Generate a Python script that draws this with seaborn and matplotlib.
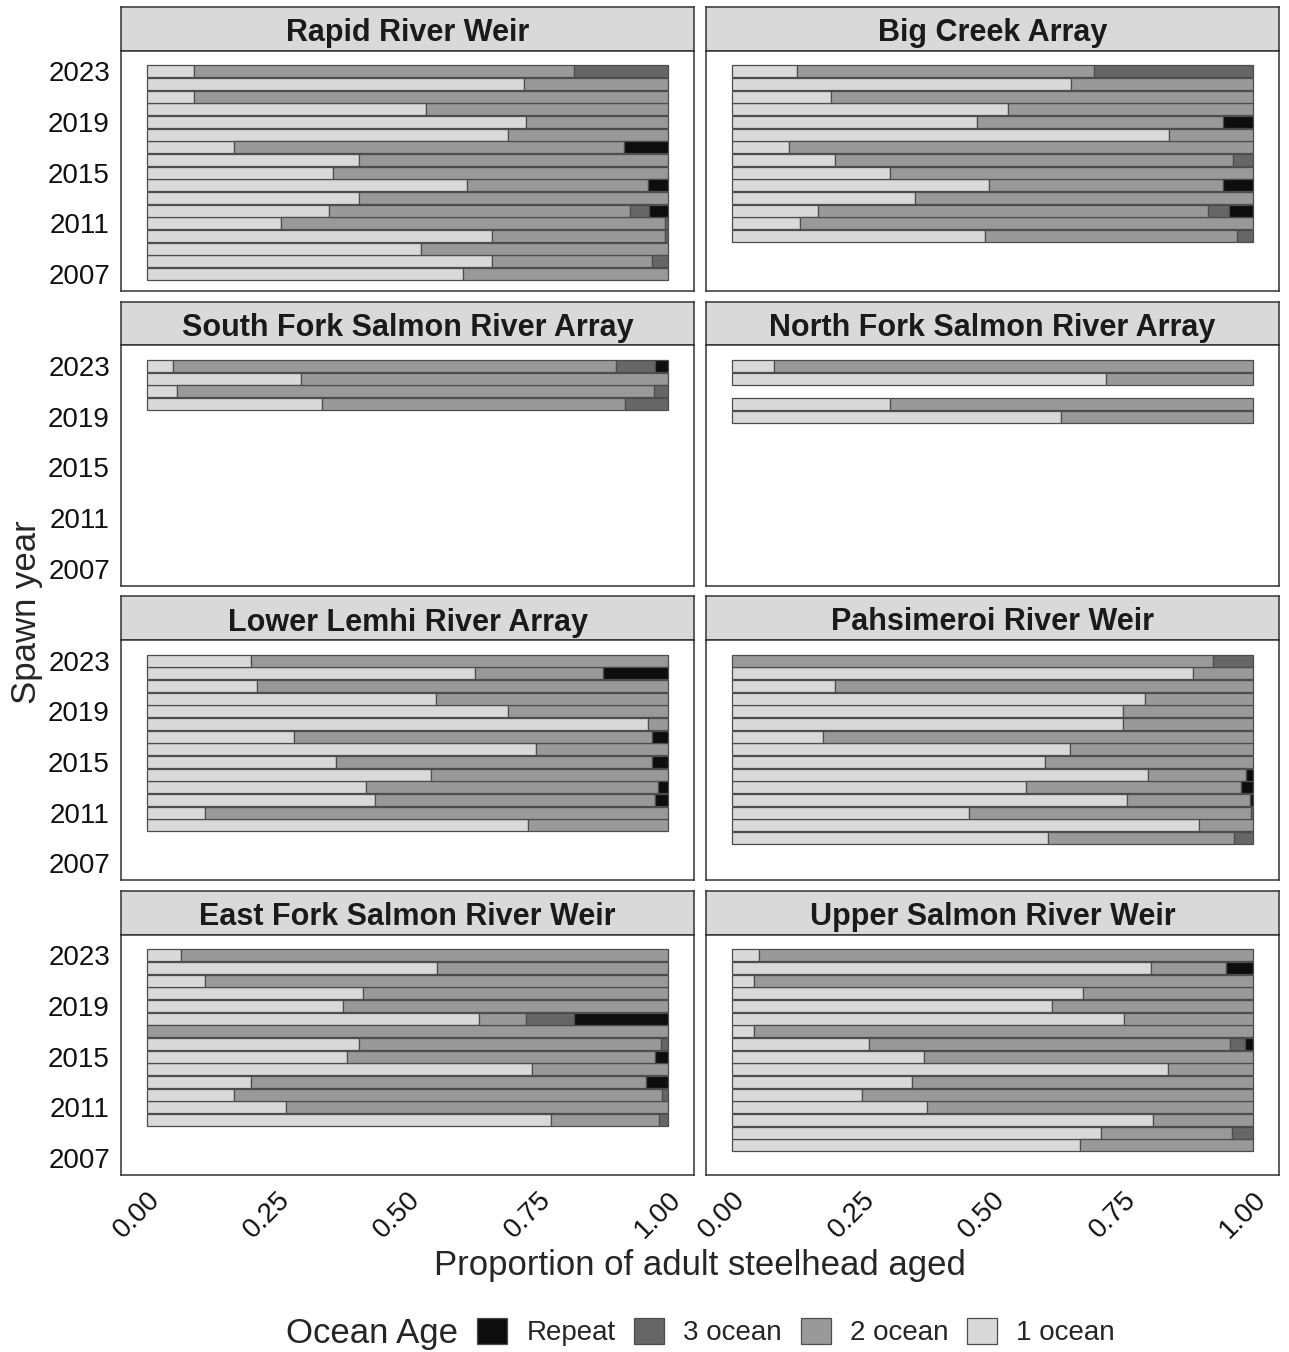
import matplotlib
matplotlib.use("Agg")
import matplotlib.pyplot as plt
from matplotlib.patches import Patch
import pandas as pd
import seaborn as sns

# proportions by ocean age, years listed from newest to oldest
sites = ["Rapid River Weir", "Big Creek Array",
         "South Fork Salmon River Array", "North Fork Salmon River Array",
         "Lower Lemhi River Array", "Pahsimeroi River Weir",
         "East Fork Salmon River Weir", "Upper Salmon River Weir"]

rapid_years = list(range(2023, 2006, -1))
rapid_one = [0.090, 0.723, 0.090, 0.536, 0.728, 0.693, 0.166, 0.407, 0.357, 0.615, 0.407, 0.349, 0.257, 0.662, 0.526, 0.662, 0.607]
rapid_two = [0.730, 0.277, 0.910, 0.464, 0.272, 0.307, 0.750, 0.593, 0.643, 0.346, 0.593, 0.579, 0.737, 0.333, 0.474, 0.308, 0.393]
rapid_three = [0.180, 0, 0, 0, 0, 0, 0, 0, 0, 0, 0, 0.036, 0.006, 0.005, 0, 0.030, 0]
rapid_rep = [0, 0, 0, 0, 0, 0, 0.084, 0, 0, 0.039, 0, 0.036, 0, 0, 0, 0, 0]

big_years = list(range(2023, 2009, -1))
big_one = [0.124, 0.651, 0.190, 0.529, 0.471, 0.839, 0.110, 0.198, 0.304, 0.493, 0.351, 0.165, 0.130, 0.485]
big_two = [0.571, 0.349, 0.810, 0.471, 0.471, 0.161, 0.890, 0.764, 0.696, 0.449, 0.649, 0.748, 0.870, 0.485]
big_three = [0.305, 0, 0, 0, 0, 0, 0, 0.038, 0, 0, 0, 0.041, 0, 0.030]
big_rep = [0, 0, 0, 0, 0.058, 0, 0, 0, 0, 0.058, 0, 0.046, 0, 0]

sf_years = [2023, 2022, 2021, 2020]
sf_one = [0.049, 0.296, 0.057, 0.335]
sf_two = [0.851, 0.704, 0.916, 0.582]
sf_three = [0.075, 0, 0.027, 0.083]
sf_rep = [0.025, 0, 0, 0]

nf_years = [2023, 2022, 2020, 2019]
nf_one = [0.081, 0.718, 0.304, 0.632]
nf_two = [0.919, 0.282, 0.696, 0.368]
nf_three = [0, 0, 0, 0]
nf_rep = [0, 0, 0, 0]

lemhi_years = list(range(2023, 2009, -1))
lemhi_one = [0.199, 0.629, 0.211, 0.554, 0.693, 0.962, 0.282, 0.746, 0.363, 0.546, 0.421, 0.437, 0.111, 0.731]
lemhi_two = [0.801, 0.247, 0.789, 0.446, 0.307, 0.038, 0.688, 0.254, 0.607, 0.454, 0.560, 0.538, 0.889, 0.269]
lemhi_three = [0] * 14
lemhi_rep = [0, 0.124, 0, 0, 0, 0, 0.030, 0, 0.030, 0, 0.019, 0.025, 0, 0]

pah_years = list(range(2023, 2008, -1))
pah_one = [0, 0.884, 0.198, 0.792, 0.751, 0.751, 0.174, 0.648, 0.601, 0.798, 0.565, 0.759, 0.454, 0.896, 0.606]
pah_two = [0.923, 0.116, 0.802, 0.208, 0.249, 0.249, 0.826, 0.352, 0.399, 0.189, 0.413, 0.236, 0.543, 0.104, 0.358]
pah_three = [0.077, 0, 0, 0, 0, 0, 0, 0, 0, 0, 0, 0, 0.003, 0, 0.036]
pah_rep = [0, 0, 0, 0, 0, 0, 0, 0, 0, 0.013, 0.022, 0.005, 0, 0, 0]

ef_years = list(range(2023, 2009, -1))
ef_one = [0.065, 0.556, 0.111, 0.415, 0.376, 0.637, 0, 0.407, 0.384, 0.739, 0.199, 0.166, 0.266, 0.775]
ef_two = [0.935, 0.444, 0.889, 0.585, 0.624, 0.091, 1.0, 0.579, 0.591, 0.261, 0.759, 0.823, 0.734, 0.208]
ef_three = [0, 0, 0, 0, 0, 0.092, 0, 0.014, 0, 0, 0, 0.011, 0, 0.017]
ef_rep = [0, 0, 0, 0, 0, 0.180, 0, 0, 0.025, 0, 0.042, 0, 0, 0]

us_years = list(range(2023, 2007, -1))
us_one = [0.052, 0.804, 0.043, 0.674, 0.615, 0.752, 0.043, 0.262, 0.368, 0.837, 0.346, 0.249, 0.374, 0.809, 0.709, 0.668]
us_two = [0.948, 0.144, 0.957, 0.326, 0.385, 0.248, 0.957, 0.694, 0.632, 0.163, 0.654, 0.751, 0.626, 0.191, 0.250, 0.332]
us_three = [0, 0, 0, 0, 0, 0, 0, 0.028, 0, 0, 0, 0, 0, 0, 0.041, 0]
us_rep = [0, 0.052, 0, 0, 0, 0, 0, 0.016, 0, 0, 0, 0, 0, 0, 0, 0]

site_data = [
    (rapid_years, rapid_one, rapid_two, rapid_three, rapid_rep),
    (big_years, big_one, big_two, big_three, big_rep),
    (sf_years, sf_one, sf_two, sf_three, sf_rep),
    (nf_years, nf_one, nf_two, nf_three, nf_rep),
    (lemhi_years, lemhi_one, lemhi_two, lemhi_three, lemhi_rep),
    (pah_years, pah_one, pah_two, pah_three, pah_rep),
    (ef_years, ef_one, ef_two, ef_three, ef_rep),
    (us_years, us_one, us_two, us_three, us_rep),
]

age_order = ["Repeat", "3 ocean", "2 ocean", "1 ocean"]
age_colors = {"Repeat": "#0D0D0D", "3 ocean": "#666666",
              "2 ocean": "#999999", "1 ocean": "#D9D9D9"}

rows = []
for site, (yrs, one, two, three, rep) in zip(sites, site_data):
    for i, y in enumerate(yrs):
        for age, vals in zip(["1 ocean", "2 ocean", "3 ocean", "Repeat"], [one, two, three, rep]):
            rows.append({"site": site, "year": y, "age": age, "prop": vals[i]})
df = pd.DataFrame(rows)

sns.set_style("white")
plt.rcParams["font.family"] = ["Liberation Sans", "DejaVu Sans"]

W, H = 1289, 1352
fig = plt.figure(figsize=(W / 100, H / 100), dpi=100)

col_x = [121, 706]
panel_w = 573
strip_h = 43.5
panel_h = 240.5
border = "#333333"

for k, site in enumerate(sites):
    r, c = divmod(k, 2)
    top = 7 + 294.7 * r
    x0 = col_x[c]
    # strip
    sax = fig.add_axes([x0 / W, 1 - (top + strip_h) / H, panel_w / W, strip_h / H])
    sax.set_facecolor("#D9D9D9")
    sax.set_xticks([])
    sax.set_yticks([])
    for sp in sax.spines.values():
        sp.set_color(border)
        sp.set_linewidth(1.1)
    sax.text(0.5, 0.40, site, ha="center", va="center", fontsize=22,
             fontweight="bold", transform=sax.transAxes, color="#1A1A1A")

    ax = fig.add_axes([x0 / W, 1 - (top + strip_h + panel_h) / H, panel_w / W, panel_h / H])
    sub = df[df["site"] == site]
    sns.histplot(data=sub, y="year", weights="prop", hue="age", hue_order=age_order,
                 palette=age_colors, multiple="stack", discrete=True, shrink=0.95,
                 edgecolor="#4D4D4D", linewidth=0.9, alpha=1, legend=False, ax=ax)
    for p in ax.patches:
        if p.get_width() < 1e-9:
            p.set_visible(False)

    ax.set_xlim(-0.05, 1.05)
    ax.set_ylim(2005.65, 2024.65)
    ax.set_xlabel("")
    ax.set_ylabel("")
    for sp in ax.spines.values():
        sp.set_color(border)
        sp.set_linewidth(1.1)
    ax.tick_params(length=4.5, width=1, color=border, labelsize=20, labelcolor="#111111")

    if c == 0:
        ax.set_yticks([2007, 2011, 2015, 2019, 2023])
        ax.set_yticklabels(["2007", "2011", "2015", "2019", "2023"])
    else:
        ax.set_yticks([])
    if r == 3:
        ax.set_xticks([0, 0.25, 0.5, 0.75, 1.0])
        ax.set_xticklabels(["0.00", "0.25", "0.50", "0.75", "1.00"],
                           rotation=45, ha="right", va="top", rotation_mode="anchor")
    else:
        ax.set_xticks([])

fig.text(700 / W, 1 - 1265 / H, "Proportion of adult steelhead aged",
         ha="center", va="center", fontsize=25)
fig.text(27 / W, 1 - 612 / H, "Spawn year", rotation=90,
         ha="center", va="center", fontsize=25)

handles = [Patch(facecolor=age_colors[a], edgecolor="#4D4D4D", linewidth=0.9) for a in age_order]
fig.legend(handles, age_order, loc="center", bbox_to_anchor=(796 / W, 1 - 1332 / H),
           ncol=4, frameon=False, fontsize=20, handlelength=1.08, handleheight=1.08,
           handletextpad=0.68, columnspacing=0.68, borderpad=0)
fig.text(458 / W, 1 - 1333 / H, "Ocean Age", ha="right", va="center", fontsize=25)

fig.savefig("out.png", dpi=100)
